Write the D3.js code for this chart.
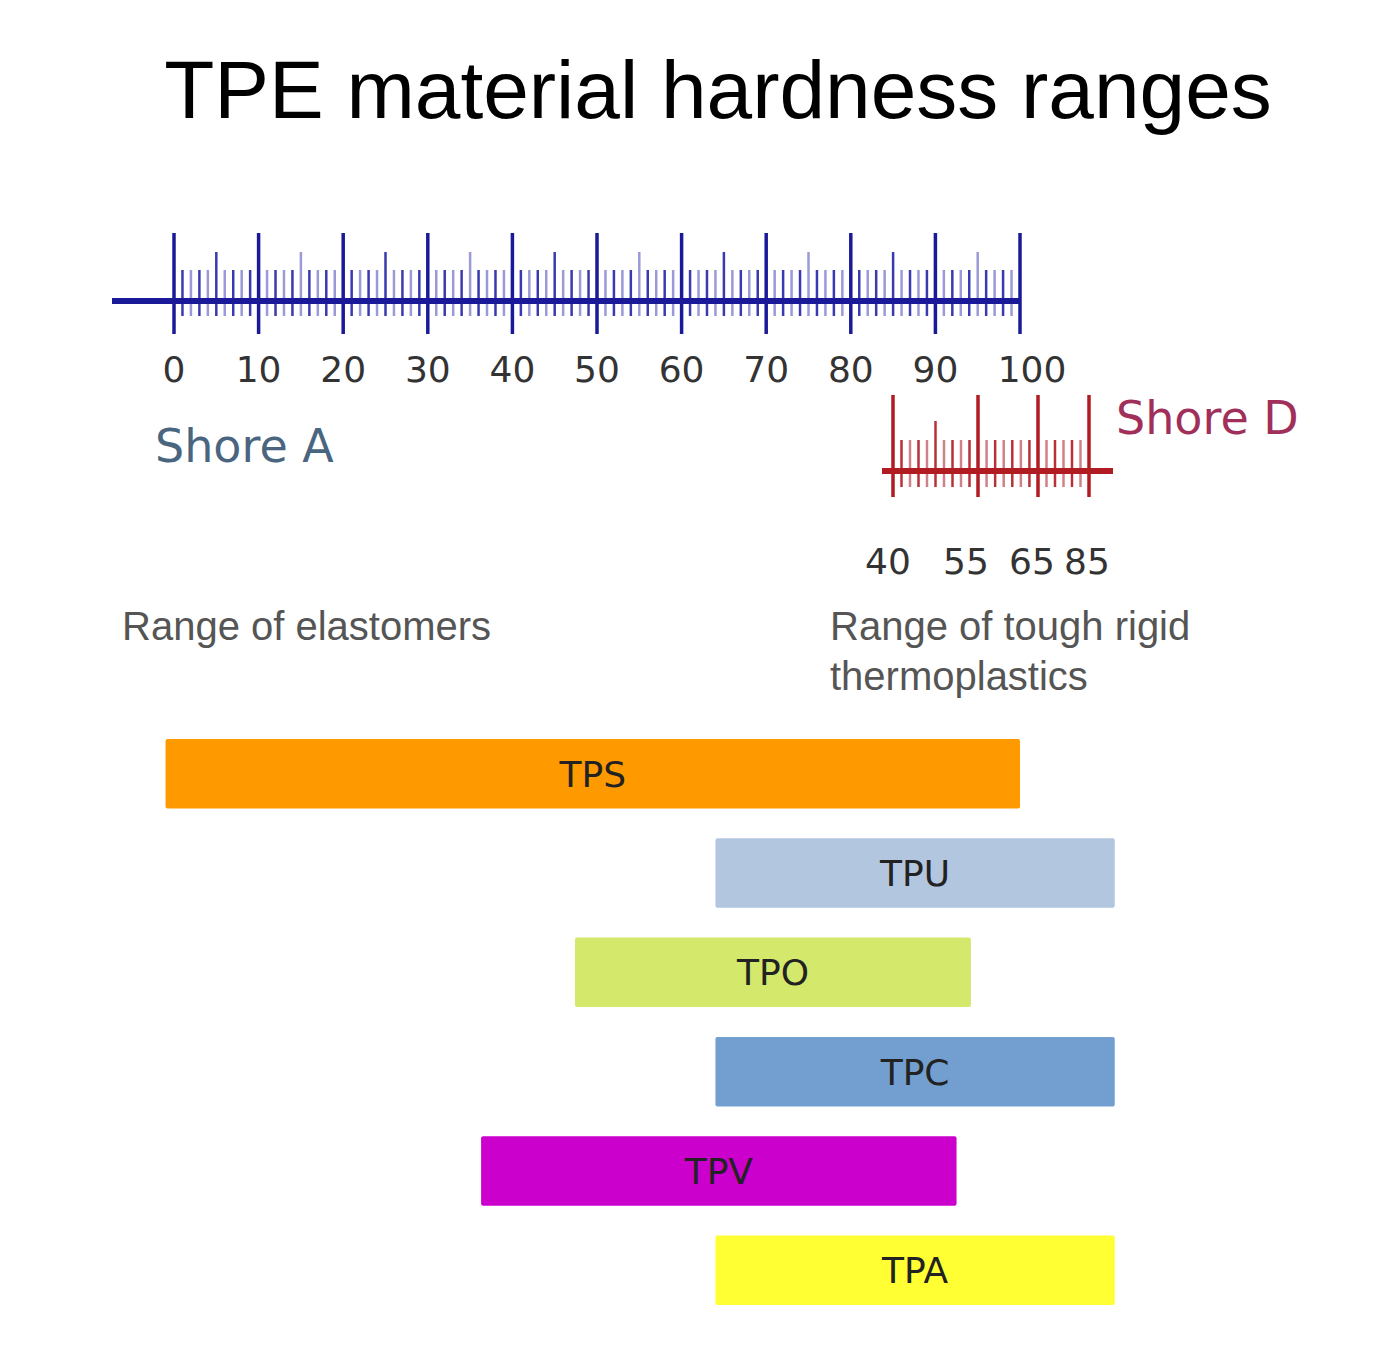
<!DOCTYPE html><html><head><meta charset="utf-8"><script src="https://cdn.jsdelivr.net/npm/d3@7"></script>
<style>body{margin:0;background:#fff}</style></head><body><svg id="c" width="1400" height="1349"></svg>
<script>
const shoreATicks=[0,10,20,30,40,50,60,70,80,90,100];
const shoreDTicks=[40,55,65,85];
const shoreDMinorCounts=[9,6,5];
const materials=["TPS","TPU","TPO","TPC","TPV","TPA"];
const startA=[-1,64,47.4,64,36.3,64];
const endA=[100,111.2,94.2,111.2,92.5,111.2];
const colors=["#ff9900","#b3c6e0","#d4e96b","#729fcf","#cc00cc","#ffff33"];

const svg=d3.select("#c");
const x=d3.scaleLinear().domain([0,100]).range([174,1020]);
const xd=d3.scaleLinear().domain(shoreDTicks).range([893,978,1038,1089]);
const y=d3.scaleBand().domain(materials).range([739,1305]).paddingInner(0.3);

svg.append("text").attr("x",718).attr("y",118).attr("text-anchor","middle")
 .attr("font-family","Liberation Sans, Arial").attr("font-size",82).text("TPE material hardness ranges");

// Shore A ruler
const blue="#1a1a99";
const minors=d3.range(0,100).flatMap(i=>d3.range(1,10).map(j=>i+j/10)).filter(v=>v%10!==0);
const ga=svg.append("g");
ga.selectAll(".mi").data(d3.range(1,100).filter(v=>v%10!==0)).join("line")
 .attr("x1",d=>x(d)).attr("x2",d=>x(d)).attr("y1",d=>d%5===0?252:270).attr("y2",316)
 .attr("stroke",(d,i)=>i%2?"#9a9ad8":"#3a3ab0").attr("stroke-width",2.5);
ga.append("line").attr("x1",112).attr("x2",x(100)).attr("y1",301).attr("y2",301).attr("stroke",blue).attr("stroke-width",6);
ga.selectAll(".ma").data(shoreATicks).join("line")
 .attr("x1",d=>x(d)).attr("x2",d=>x(d)).attr("y1",233).attr("y2",334).attr("stroke",blue).attr("stroke-width",3.5);
ga.selectAll(".lb").data(shoreATicks).join("text")
 .attr("x",d=>x(d)+(d===100?12:d===0?0:0)).attr("y",382).attr("text-anchor","middle")
 .attr("font-family","DejaVu Sans").attr("font-size",36).attr("fill","#333").text(d=>d);
svg.append("text").attr("x",155).attr("y",462).attr("font-family","DejaVu Sans").attr("font-size",46).attr("fill","#4a6580").text("Shore A");

// Shore D ruler
const red="#b01c22";
const gd=svg.append("g");
const dMin=[];
shoreDMinorCounts.forEach((n,s)=>{const a=shoreDTicks[s],b=shoreDTicks[s+1];
 for(let k=1;k<=n;k++)dMin.push({v:a+(b-a)*k/(n+1),tall:s===0&&k===5});});
gd.selectAll(".mi").data(dMin).join("line")
 .attr("x1",d=>xd(d.v)).attr("x2",d=>xd(d.v)).attr("y1",d=>d.tall?421:440).attr("y2",487)
 .attr("stroke",(d,i)=>i%2?"#d08088":"#b83038").attr("stroke-width",2.5);
gd.append("line").attr("x1",882).attr("x2",1113).attr("y1",471).attr("y2",471).attr("stroke",red).attr("stroke-width",6);
gd.selectAll(".ma").data(shoreDTicks).join("line")
 .attr("x1",d=>xd(d)).attr("x2",d=>xd(d)).attr("y1",395).attr("y2",497).attr("stroke",red).attr("stroke-width",3.5);
const dLab=[888,966,1032,1087];
gd.selectAll(".lb").data(shoreDTicks).join("text")
 .attr("x",(d,i)=>dLab[i]).attr("y",574).attr("text-anchor","middle")
 .attr("font-family","DejaVu Sans").attr("font-size",36).attr("fill","#333").text(d=>d);
svg.append("text").attr("x",1116).attr("y",434).attr("font-family","DejaVu Sans").attr("font-size",46).attr("fill","#a0305a").text("Shore D");

const rf={"font-family":"Liberation Sans, Arial","font-size":40,"fill":"#555"};
function t(xx,yy,s){const e=svg.append("text").attr("x",xx).attr("y",yy).text(s);for(const k in rf)e.attr(k,rf[k]);}
t(122,640,"Range of elastomers");t(830,640,"Range of tough rigid");t(830,690,"thermoplastics");

// bars
const gb=svg.append("g");
gb.selectAll("rect").data(materials).join("rect")
 .attr("x",(d,i)=>x(startA[i])).attr("width",(d,i)=>x(endA[i])-x(startA[i]))
 .attr("y",d=>y(d)).attr("height",y.bandwidth()).attr("fill",(d,i)=>colors[i]).attr("rx",2);
gb.selectAll("text").data(materials).join("text")
 .attr("x",(d,i)=>(x(startA[i])+x(endA[i]))/2).attr("y",d=>y(d)+y.bandwidth()/2+13)
 .attr("text-anchor","middle").attr("font-family","DejaVu Sans").attr("font-size",36).attr("fill","#222").text(d=>d);
</script></body></html>
